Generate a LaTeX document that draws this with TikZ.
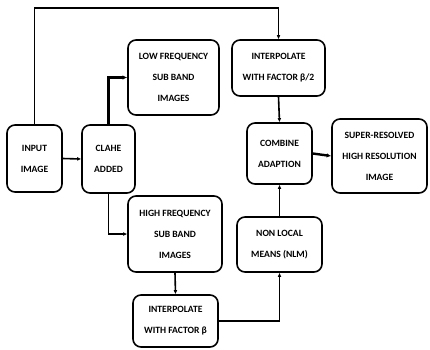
\documentclass[tikz,border=0pt]{standalone}
\usepackage{fontspec}
\setmainfont{Carlito}
\usetikzlibrary{arrows.meta}
\begin{document}
\begin{tikzpicture}[x=1pt,y=-1pt,
  blk/.style={draw,line width=1.6pt,rounded corners=8pt,align=center,inner sep=0pt,
    font=\fontsize{9.6}{21}\selectfont\bfseries},
  conn/.style={line width=1.6pt,-{Latex[length=4pt,width=3.8pt]}},
  thick conn/.style={line width=2.4pt,-{Latex[length=4.5pt,width=4.4pt]}}]
\useasboundingbox (0,0) rectangle (430,349);
\node[blk,minimum width=55pt,minimum height=67pt] (inp) at (34.5,158.5) {INPUT\\IMAGE};
\node[blk,minimum width=53pt,minimum height=68pt] (clahe) at (108.5,159) {CLAHE\\ADDED};
\node[blk,minimum width=91pt,minimum height=75pt] (low) at (173.5,77.5) {LOW FREQUENCY\\SUB BAND\\IMAGES};
\node[blk,minimum width=94pt,minimum height=76pt] (high) at (175,234) {HIGH FREQUENCY\\SUB BAND\\IMAGES};
\node[blk,minimum width=85pt,minimum height=52pt] (ib) at (175.5,321) {INTERPOLATE\\WITH FACTOR β};
\node[blk,minimum width=93pt,minimum height=56pt] (ib2) at (278.5,68) {INTERPOLATE\\WITH FACTOR β/2};
\node[blk,minimum width=65pt,minimum height=61pt] (comb) at (279.5,153.5) {COMBINE\\ADAPTION};
\node[blk,minimum width=95pt,minimum height=74pt] (sup) at (379.5,156) {SUPER-RESOLVED\\HIGH RESOLUTION\\IMAGE};
\node[blk,minimum width=85pt,minimum height=55pt] (nlm) at (279.5,244.5) {NON LOCAL\\MEANS (NLM)};
\coordinate (top) at (0,8);
\draw[conn] (inp.east) -- (clahe.west);
\draw[conn] (inp.north) |- (top -| ib2.north) -- (ib2.north);
\draw[thick conn] (clahe.north) |- (low.west);
\draw[conn] (clahe.south) |- (high.west);
\draw[conn] (high.south) -- (ib.north);
\draw[conn] (ib.east) -| (nlm.south);
\draw[conn] (nlm.north) -- (comb.south);
\draw[conn] (ib2.south) -- (comb.north);
\draw[thick conn] (comb.east) -- (sup.west);
\end{tikzpicture}
\end{document}
